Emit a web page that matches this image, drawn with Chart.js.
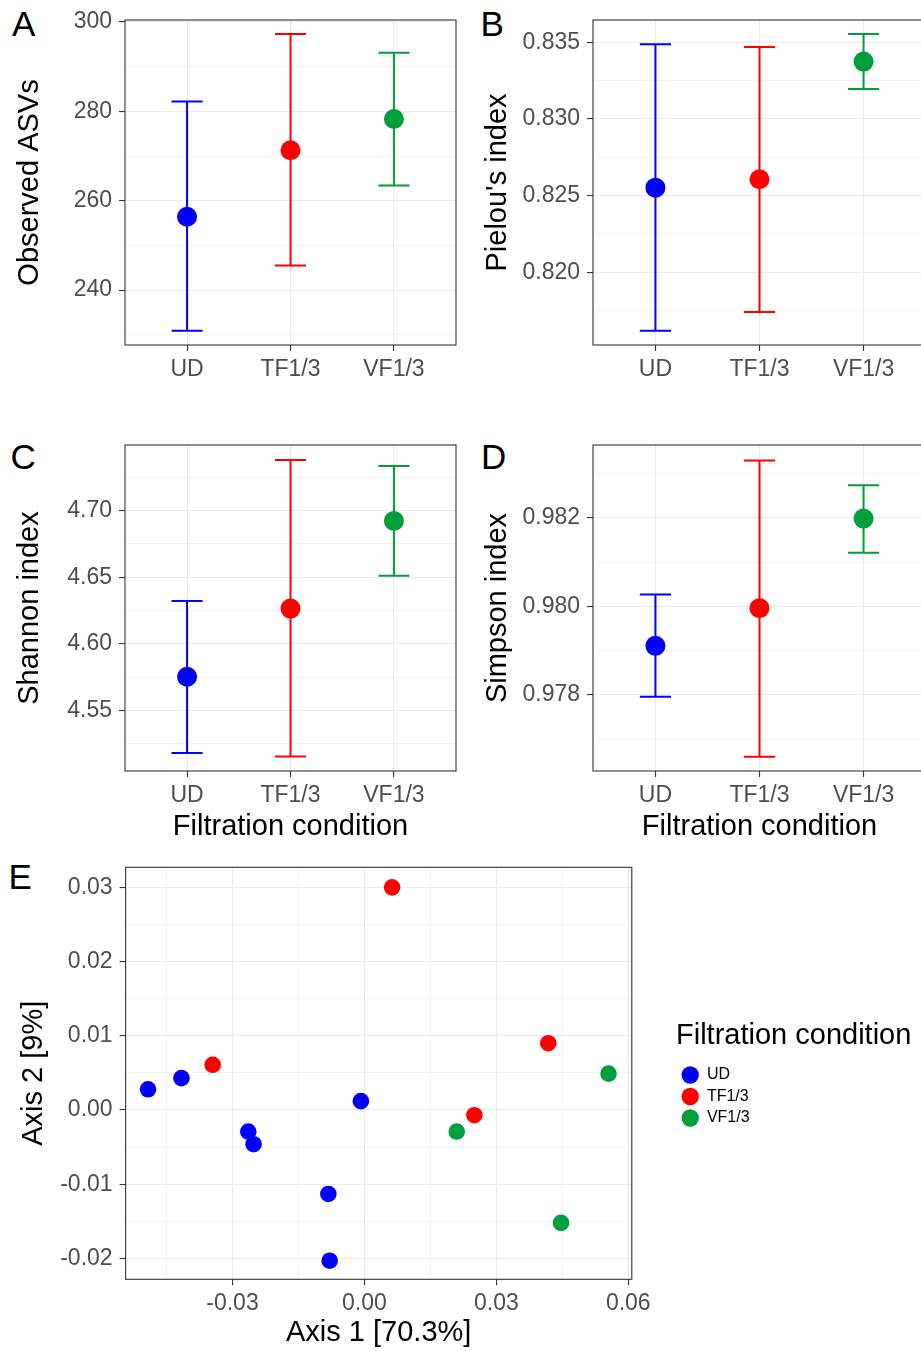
<!doctype html>
<html lang="en">
<head>
<meta charset="utf-8">
<title>Diversity by filtration condition</title>
<script src="https://cdn.jsdelivr.net/npm/chart.js"></script>
<style>
  html, body { margin: 0; padding: 0; background: #fff; overflow: hidden; }
  body { width: 921px; height: 1351px; position: relative; font-family: "Liberation Sans", Arial, sans-serif; }
  .panel { position: absolute; }
  .tag { position: absolute; font-size: 35px; line-height: 35px; color: #000; }
</style>
</head>
<body>
<div class="tag" style="left:12px;top:5.7px">A</div>
<div class="tag" style="left:480.5px;top:5.7px">B</div>
<div class="tag" style="left:10.5px;top:439.4px">C</div>
<div class="tag" style="left:481px;top:439.4px">D</div>
<div class="tag" style="left:8.5px;top:859.4px">E</div>

<div class="panel" style="left:0;top:-20px;width:466px;height:415px"><canvas id="chartA"></canvas></div>
<div class="panel" style="left:468px;top:-20px;width:468px;height:415px"><canvas id="chartB"></canvas></div>
<div class="panel" style="left:0;top:405px;width:466px;height:441px"><canvas id="chartC"></canvas></div>
<div class="panel" style="left:468px;top:405px;width:468px;height:441px"><canvas id="chartD"></canvas></div>
<div class="panel" style="left:0;top:830px;width:921px;height:521px"><canvas id="chartE"></canvas></div>

<script>
const groups = ['UD', 'TF1/3', 'VF1/3']

// observed ASVs: mean with error bar ends
const asvMean = [256.4, 271.3, 278.3]
const asvLow = [230.9, 245.5, 263.4]
const asvHigh = [282.2, 297.3, 293.1]

const pielouMean = [0.82552, 0.82607, 0.83374]
const pielouLow = [0.81619, 0.81741, 0.83195]
const pielouHigh = [0.83487, 0.83469, 0.83554]

const shannonMean = [4.5752, 4.6264, 4.6923]
const shannonLow = [4.5179, 4.5153, 4.6510]
const shannonHigh = [4.6322, 4.7381, 4.7336]

const simpsonMean = [0.97911, 0.97996, 0.98198]
const simpsonLow = [0.97796, 0.97661, 0.98121]
const simpsonHigh = [0.98027, 0.98329, 0.98273]

// PCoA coordinates per group
const udAxis1 = [-0.0492, -0.0416, -0.0264, -0.0252, -0.0008, -0.0082, -0.0079]
const udAxis2 = [0.0028, 0.0043, -0.0029, -0.0046, 0.0012, -0.0113, -0.0203]
const tfAxis1 = [0.0063, -0.0345, 0.0418, 0.0250]
const tfAxis2 = [0.0300, 0.0061, 0.0090, -0.0007]
const vfAxis1 = [0.0555, 0.0210, 0.0447]
const vfAxis2 = [0.0049, -0.0029, -0.0152]

// tick values (major labelled, minor only gridlines)
const asvTicks = [240, 260, 280, 300]
const asvMinor = [230, 250, 270, 290]
const pielouTicks = [0.820, 0.825, 0.830, 0.835]
const pielouMinor = [0.8175, 0.8225, 0.8275, 0.8325]
const shannonTicks = [4.55, 4.60, 4.65, 4.70]
const shannonMinor = [4.525, 4.575, 4.625, 4.675, 4.725]
const simpsonTicks = [0.978, 0.980, 0.982]
const simpsonMinor = [0.977, 0.979, 0.981, 0.983]
const axis1Ticks = [-0.03, 0, 0.03, 0.06]
const axis1Minor = [-0.045, -0.015, 0.015, 0.045]
const axis2Ticks = [-0.02, -0.01, 0, 0.01, 0.02, 0.03]
const axis2Minor = [-0.015, -0.005, 0.005, 0.015, 0.025]

const groupColors = ['#0000FF', '#FF0000', '#009E3C']
const capHalf = 0.15

Chart.defaults.font.family = '"Liberation Sans", Arial, sans-serif'
Chart.defaults.animation = false

const frame = {
  id: 'frame',
  afterDatasetsDraw(chart) {
    const { ctx, chartArea: a } = chart
    ctx.save()
    ctx.strokeStyle = '#333333'
    ctx.lineWidth = 1.1
    ctx.strokeRect(a.left, a.top, a.right - a.left, a.bottom - a.top)
    ctx.restore()
  },
}

// the legend title is wider than the legend items, so give the box room for it
const wideLegend = {
  id: 'wideLegend',
  afterInit(chart) {
    const legend = chart.legend
    const fit = legend.fit
    legend.fit = function () {
      fit.call(this)
      this.width = 245
    }
  },
}

const isIn = (list, v) => list.some((m) => Math.abs(m - v) < 1e-9)

function valueAxis(major, minor, digits, min, max) {
  return {
    min, max, bounds: 'data',
    afterBuildTicks: (s) => {
      s.ticks = [...major, ...minor].sort((a, b) => a - b).map((v) => ({ value: v }))
    },
    grid: {
      color: '#EBEBEB',
      lineWidth: (c) => (c.tick && isIn(major, c.tick.value) ? 1.1 : 0.6),
      tickColor: (c) => (c.tick && isIn(major, c.tick.value) ? '#333333' : 'rgba(0,0,0,0)'),
      tickLength: 6,
      tickWidth: 1.1,
    },
    border: { display: false },
    ticks: {
      color: '#4D4D4D', font: { size: 23 }, padding: 7, autoSkip: false, maxRotation: 0,
      callback: (v) => (isIn(major, v) ? v.toFixed(digits) : ''),
    },
  }
}

function errorBar(i, low, high) {
  const x = i + 1
  return [
    { x: x - capHalf, y: high }, { x: x + capHalf, y: high }, { x: x, y: null },
    { x: x, y: high }, { x: x, y: low }, { x: x, y: null },
    { x: x - capHalf, y: low }, { x: x + capHalf, y: low },
  ]
}

function alphaChart(id, o) {
  const datasets = [{
    label: 'mean',
    data: o.mean.map((m, i) => ({ x: i + 1, y: m })),
    backgroundColor: groupColors,
    pointRadius: 10,
    borderWidth: 0,
  }]
  groups.forEach((g, i) => {
    datasets.push({
      label: g,
      data: errorBar(i, o.low[i], o.high[i]),
      showLine: true,
      spanGaps: false,
      borderColor: groupColors[i],
      borderWidth: 2,
      pointRadius: 0,
    })
  })
  const y = valueAxis(o.major, o.minor, o.digits, o.min, o.max)
  y.afterFit = (s) => { s.width = 125 }
  y.title = { display: true, text: o.yTitle, color: '#000', font: { size: 29 }, padding: { top: 12.6 } }
  return new Chart(document.getElementById(id), {
    type: 'scatter',
    data: { datasets },
    options: {
      responsive: true,
      maintainAspectRatio: false,
      events: [],
      layout: { padding: { top: 40, left: 0, right: 0, bottom: 0 } },
      plugins: { legend: { display: false }, tooltip: { enabled: false } },
      scales: {
        x: {
          min: 0.4, max: 3.6, bounds: 'data',
          afterBuildTicks: (s) => { s.ticks = groups.map((g, i) => ({ value: i + 1 })) },
          afterFit: (s) => {
            s.height = o.xHeight
            s.paddingLeft = 0
            s.paddingRight = 0
          },
          grid: { color: '#EBEBEB', lineWidth: 1.1, tickColor: '#333333', tickLength: 6, tickWidth: 1.1 },
          border: { display: false },
          ticks: {
            color: '#4D4D4D', font: { size: 23 }, padding: 4.7, autoSkip: false, maxRotation: 0,
            callback: (v) => groups[Math.round(v) - 1],
          },
          title: o.xTitle
            ? { display: true, text: o.xTitle, color: '#000', font: { size: 29 }, padding: { top: 0, bottom: 1.6 } }
            : { display: false },
        },
        y,
      },
    },
    plugins: [frame],
  })
}

alphaChart('chartA', {
  mean: asvMean, low: asvLow, high: asvHigh,
  major: asvTicks, minor: asvMinor, digits: 0, min: 227.7, max: 300.45,
  yTitle: 'Observed ASVs', xHeight: 50,
})
alphaChart('chartB', {
  mean: pielouMean, low: pielouLow, high: pielouHigh,
  major: pielouTicks, minor: pielouMinor, digits: 3, min: 0.815259, max: 0.836454,
  yTitle: "Pielou's index", xHeight: 50,
})
alphaChart('chartC', {
  mean: shannonMean, low: shannonLow, high: shannonHigh,
  major: shannonTicks, minor: shannonMinor, digits: 2, min: 4.5044, max: 4.7493,
  yTitle: 'Shannon index', xTitle: 'Filtration condition', xHeight: 75,
})
alphaChart('chartD', {
  mean: simpsonMean, low: simpsonLow, high: simpsonHigh,
  major: simpsonTicks, minor: simpsonMinor, digits: 3, min: 0.976286, max: 0.98364,
  yTitle: 'Simpson index', xTitle: 'Filtration condition', xHeight: 75,
})

// PCoA
const pcoa = [[udAxis1, udAxis2], [tfAxis1, tfAxis2], [vfAxis1, vfAxis2]]
const xE = valueAxis(axis1Ticks, axis1Minor, 2, -0.0543, 0.0608)
xE.ticks.padding = 4.7
xE.afterFit = (s) => {
  s.height = 71.7
  s.paddingLeft = 0
  s.paddingRight = 0
}
xE.title = { display: true, text: 'Axis 1 [70.3%]', color: '#000', font: { size: 29 }, padding: { top: 0, bottom: 0.5 } }
const yE = valueAxis(axis2Ticks, axis2Minor, 2, -0.0228, 0.0327)
yE.afterFit = (s) => { s.width = 125.6 }
yE.title = { display: true, text: 'Axis 2 [9%]', color: '#000', font: { size: 29 }, padding: { top: 16.3 } }

new Chart(document.getElementById('chartE'), {
  type: 'scatter',
  data: {
    datasets: groups.map((g, i) => ({
      label: g,
      data: pcoa[i][0].map((x, j) => ({ x, y: pcoa[i][1][j] })),
      backgroundColor: groupColors[i],
      pointRadius: 8.3,
      borderWidth: 0,
    })),
  },
  options: {
    responsive: true,
    maintainAspectRatio: false,
    events: [],
    layout: { padding: { top: 37.3, left: 0, right: 0, bottom: 0 } },
    plugins: {
      tooltip: { enabled: false },
      legend: {
        display: true,
        position: 'right',
        align: 'start',
        title: {
          display: true, text: 'Filtration condition', position: 'start', color: '#000',
          font: { size: 29 }, padding: { top: 154.2, bottom: 5.2 },
        },
        labels: {
          usePointStyle: true, pointStyle: 'circle', pointStyleWidth: 17.4, boxHeight: 12.3,
          padding: 5.5, color: '#000', font: { size: 16 },
        },
      },
    },
    scales: {
      x: xE,
      y: yE,
      gap: {
        type: 'linear', position: 'right', display: true,
        grid: { display: false }, border: { display: false }, ticks: { display: false },
        afterFit: (s) => { s.width = 44.2 },
      },
    },
  },
  plugins: [frame, wideLegend],
})
</script>
</body>
</html>
